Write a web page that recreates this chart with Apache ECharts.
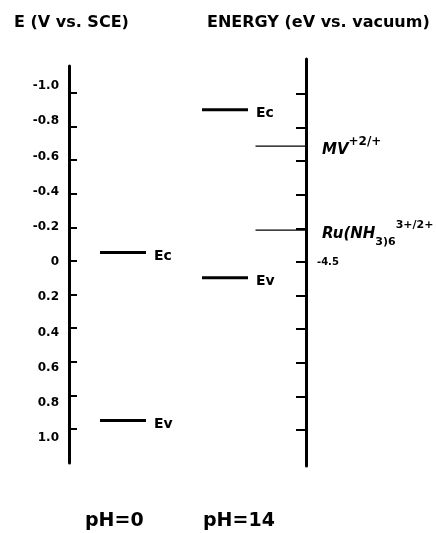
<!DOCTYPE html>
<html>
<head>
<meta charset="utf-8">
<script src="https://cdn.jsdelivr.net/npm/echarts@6/dist/echarts.min.js"></script>
<style>
  html, body { margin: 0; padding: 0; background: #fff; }
  #chart { width: 436px; height: 533px; }
</style>
</head>
<body>
<div id="chart"></div>
<script>
// band edges (V vs. SCE)
var levelNames = ['Ec', 'Ev'];
var pH0Levels = [-0.05, 0.95];
var pH14Levels = [-0.90, 0.10];

// redox couples (V vs. SCE)
var redoxLabels = ['{m|MV}{sup|+2/+}', '{m|Ru(NH}{sub|3)6}{sup2|3+/2+}'];
var redoxPotentials = [-0.69, -0.19];

// axis ticks
var tickValues = [-1.0, -0.8, -0.6, -0.4, -0.2, 0, 0.2, 0.4, 0.6, 0.8, 1.0];
var tickLabels = ['-1.0', '-0.8', '-0.6', '-0.4', '-0.2', '0', '0.2', '0.4', '0.6', '0.8', '1.0'];
var vacuumAtZero = -4.5;   // eV vs. vacuum at 0 V vs. SCE

var phLabels = ['pH=0', 'pH=14'];

var font = 'DejaVu Sans';
var myChart = echarts.init(document.getElementById('chart'), null, { renderer: 'canvas' });

// x spans of the marks inside the grids (px from the left axis)
var pH0Span = [31, 77];
var pH14Span = [133, 179];
var redoxSpan = [186.5, 237];

function levelSeries(span, values) {
    return values.map(function(v, i) {
        return {
            type: 'line',
            xAxisIndex: 0,
            yAxisIndex: 0,
            symbol: 'none',
            silent: true,
            lineStyle: { color: '#000', width: 3 },
            data: [[span[0], v], [span[1], v]],
            endLabel: {
                show: true,
                formatter: levelNames[i],
                distance: 8,
                offset: [0, 4],
                color: '#000',
                fontFamily: font,
                fontWeight: 'bold',
                fontSize: 14
            }
        };
    });
}

var small = function(size, va) {
    return { fontFamily: font, fontWeight: 'bold', fontSize: size, color: '#000', lineHeight: 12, verticalAlign: va };
};
var redoxSeries = redoxPotentials.map(function(v, i) {
    return {
        type: 'line',
        xAxisIndex: 1,
        yAxisIndex: 1,
        symbol: 'none',
        silent: true,
        lineStyle: { color: '#000', width: 1.3 },
        data: [[redoxSpan[0], v], [redoxSpan[1], v]],
        endLabel: {
            show: true,
            formatter: redoxLabels[i],
            distance: 16,
            offset: [0, 4],
            rich: {
                m: { fontFamily: font, fontStyle: 'italic', fontWeight: 'bold', fontSize: 15, color: '#000', lineHeight: 28 },
                sup: small(12, 'top'),
                sup2: small(11, 'top'),
                sub: small(11, 'bottom')
            }
        }
    };
});

var hiddenX = function(idx, max) {
    return { type: 'value', gridIndex: idx, min: 0, max: max, show: false };
};

option = {
    animation: false,
    backgroundColor: '#fff',
    title: [
        { text: 'E (V vs. SCE)', left: 14, top: 15, padding: 0,
          textStyle: { fontFamily: font, fontWeight: 'bold', fontSize: 16, color: '#000' } },
        { text: 'ENERGY (eV vs. vacuum)', left: 207, top: 15, padding: 0,
          textStyle: { fontFamily: font, fontWeight: 'bold', fontSize: 16, color: '#000' } },
        { text: phLabels[0], left: 85, top: 512, padding: 0,
          textStyle: { fontFamily: font, fontWeight: 'bold', fontSize: 19, color: '#000' } },
        { text: phLabels[1], left: 203, top: 512, padding: 0,
          textStyle: { fontFamily: font, fontWeight: 'bold', fontSize: 19, color: '#000' } }
    ],
    grid: [
        { left: 69, top: 66, width: 237, height: 397 },
        { left: 69, top: 59, width: 237, height: 407 },
        { left: 69, top: 66, width: 237, height: 397 }
    ],
    xAxis: [hiddenX(0, 237), hiddenX(1, 237), hiddenX(2, 237)],
    yAxis: [
        {   // left axis line and ticks
            type: 'value', gridIndex: 0, inverse: true,
            min: -195 / 168, max: 202 / 168,
            splitLine: { show: false },
            axisLine: { show: true, onZero: false, lineStyle: { color: '#000', width: 3 } },
            axisTick: { show: true, inside: true, length: 8, customValues: tickValues,
                        lineStyle: { color: '#000', width: 2 } },
            axisLabel: { show: false }
        },
        {   // vacuum energy axis
            type: 'value', gridIndex: 1, inverse: true, position: 'right',
            min: -(262 - 59) / 168, max: (466 - 262) / 168,
            splitLine: { show: false },
            axisLine: { show: true, onZero: false, lineStyle: { color: '#000', width: 3 } },
            axisTick: { show: true, inside: true, length: 10, customValues: tickValues,
                        lineStyle: { color: '#000', width: 2 } },
            axisLabel: {
                show: true, customValues: [0], margin: 11,
                color: '#000', fontFamily: font, fontWeight: 'bold', fontSize: 10,
                formatter: function(v) { return (vacuumAtZero - v).toFixed(1); }
            }
        },
        {   // left tick labels (printed on a slightly wider spacing)
            type: 'value', gridIndex: 2, inverse: true,
            min: -(262 - 66) / 176, max: (463 - 262) / 176,
            splitLine: { show: false },
            axisLine: { show: false, onZero: false },
            axisTick: { show: false },
            axisLabel: {
                show: true, customValues: tickValues, margin: 10,
                color: '#000', fontFamily: font, fontWeight: 'bold', fontSize: 12,
                formatter: function(v) {
                    var k = tickValues.findIndex(function(t) { return Math.abs(t - v) < 1e-6; });
                    return k >= 0 ? tickLabels[k] : '';
                }
            }
        }
    ],
    series: levelSeries(pH0Span, pH0Levels)
        .concat(levelSeries(pH14Span, pH14Levels))
        .concat(redoxSeries)
};

option && myChart.setOption(option);
</script>
</body>
</html>
